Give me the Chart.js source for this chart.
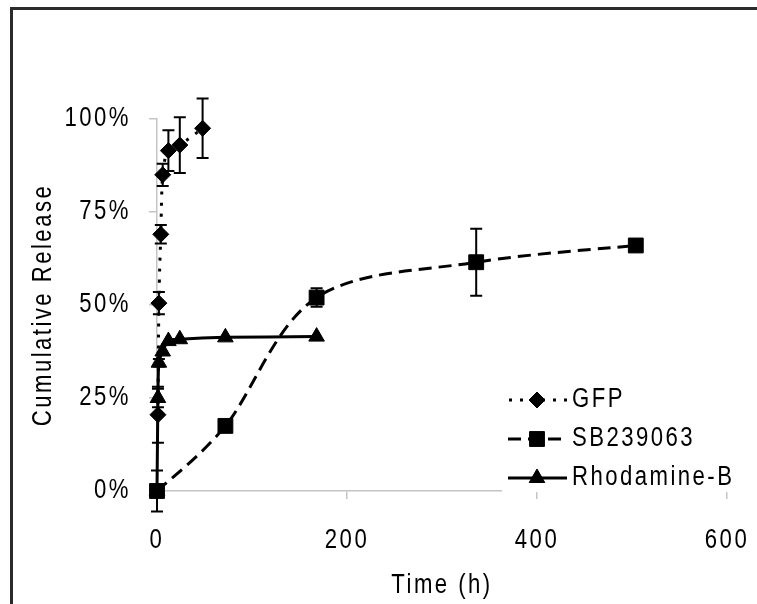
<!DOCTYPE html>
<html>
<head>
<meta charset="utf-8">
<script src="https://cdn.jsdelivr.net/npm/chart.js@4.4.0/dist/chart.umd.min.js"></script>
<style>
html,body{margin:0;padding:0;background:#fff;}
#wrap{position:relative;width:757px;height:604px;overflow:hidden;background:#fff;}
#c{position:absolute;left:0;top:0;width:757px;height:604px;}
#frame{position:absolute;left:10px;top:7px;width:900px;height:800px;border-left:3px solid #2b2b2b;border-top:3px solid #2b2b2b;pointer-events:none;}
</style>
</head>
<body>
<div id="wrap"><canvas id="c" width="757" height="604"></canvas><div id="frame"></div></div>
<script>
// ---- data ----
const gfpTime    = [1, 2, 4, 6, 12, 24, 48];
const gfpRelease = [20.5, 50.5, 69, 85, 91.5, 93, 97.5];
const gfpError   = [7.5, 3, 2.5, 3, 5.5, 7.5, 8];

const sbTime     = [0, 72, 168, 336, 504];
const sbRelease  = [0, 17.5, 52, 61.5, 66];
const sbError    = [5.5, 0, 2.5, 9, 0];

const rhoTime    = [0, 1, 2, 6, 12, 24, 72, 168];
const rhoRelease = [0, 25, 34.5, 37.5, 40.3, 40.8, 41.3, 41.5];
const rhoError   = [0, 2.5, 1, 0, 0, 0, 0, 0];

const seriesNames = ['GFP', 'SB239063', 'Rhodamine-B'];
const xTickValues = [0, 200, 400, 600];
const yTickValues = [0, 25, 50, 75, 100];
const xTitle = 'Time (h)';
const yTitle = 'Cumulative Release';

// ---- helpers ----
const FONT_FAMILY = "'Liberation Sans', Arial, sans-serif";
const NARROW = 0.82;          // horizontal text compression (Arial Narrow look)
const SPACING = '3px';
const AXIS_GRAY = '#c4c4c4';
const pts = (xs, ys) => xs.map((x, i) => ({x: x, y: ys[i]}));

// compress text horizontally on the canvas context so Liberation Sans looks narrow
(function installNarrow(ctx, k) {
  const f = ctx.fillText.bind(ctx), m = ctx.measureText.bind(ctx);
  ctx.fillText = function (t, x, y, mw) {
    ctx.save();
    ctx.translate(x, y);
    ctx.scale(k, 1);
    if (mw !== undefined && mw !== null) f(t, 0, 0, mw / k); else f(t, 0, 0);
    ctx.restore();
  };
  ctx.measureText = function (t) {
    const r = m(t);
    return {
      width: r.width * k,
      actualBoundingBoxAscent: r.actualBoundingBoxAscent,
      actualBoundingBoxDescent: r.actualBoundingBoxDescent,
      actualBoundingBoxLeft: r.actualBoundingBoxLeft * k,
      actualBoundingBoxRight: r.actualBoundingBoxRight * k
    };
  };
})(document.getElementById('c').getContext('2d'), NARROW);

const spacingPlugin = {
  id: 'spacing',
  beforeUpdate(chart) { chart.ctx.letterSpacing = SPACING; },
  beforeLayout(chart) { chart.ctx.letterSpacing = SPACING; },
  beforeDraw(chart) { chart.ctx.letterSpacing = SPACING; }
};

// spreadsheet-style smoothing: control points at 1/6 of the neighbour chord
const smoothPlugin = {
  id: 'sheetSmooth',
  beforeDatasetsDraw(chart) {
    chart.getSortedVisibleDatasetMetas().forEach(meta => {
      const p = meta.data, n = p.length;
      for (let i = 0; i < n; i++) {
        const prev = p[Math.max(i - 1, 0)], next = p[Math.min(i + 1, n - 1)];
        const dx = (next.x - prev.x) / 6, dy = (next.y - prev.y) / 6;
        p[i].cp1x = p[i].x - dx; p[i].cp1y = p[i].y - dy;
        p[i].cp2x = p[i].x + dx; p[i].cp2y = p[i].y + dy;
      }
      meta.dataset._pointsUpdated = true;
    });
  }
};

const errorBarPlugin = {
  id: 'errorBars',
  afterDatasetsDraw(chart) {
    const ctx = chart.ctx, xs = chart.scales.x, ys = chart.scales.y;
    ctx.save();
    ctx.strokeStyle = '#000';
    ctx.lineWidth = 2;
    ctx.setLineDash([]);
    chart.data.datasets.forEach(ds => {
      const errs = ds.errors;
      if (!errs) return;
      ds.data.forEach((p, j) => {
        const e = errs[j];
        if (!e) return;
        const px = xs.getPixelForValue(p.x);
        const top = ys.getPixelForValue(p.y + e);
        const bot = ys.getPixelForValue(p.y - e);
        ctx.beginPath();
        ctx.moveTo(px, top); ctx.lineTo(px, bot);
        ctx.moveTo(px - 6, top); ctx.lineTo(px + 6, top);
        ctx.moveTo(px - 6, bot); ctx.lineTo(px + 6, bot);
        ctx.stroke();
      });
    });
    ctx.restore();
  }
};

const legendPlugin = {
  id: 'boxLegend',
  afterDraw(chart) {
    const ctx = chart.ctx, a = chart.chartArea;
    const boxLeft = a.left + 345, boxBottom = a.bottom + 1.2;
    ctx.save();
    ctx.fillStyle = '#fff';
    ctx.fillRect(boxLeft, boxBottom - 122, 760 - boxLeft, 122);
    const rowY0 = a.bottom - 91, rowGap = 39;
    const lineX0 = boxLeft + 6, lineX1 = boxLeft + 65, markX = boxLeft + 35, textX = boxLeft + 70;
    chart.data.datasets.forEach((ds, i) => {
      const yy = rowY0 + i * rowGap;
      ctx.save();
      ctx.strokeStyle = ds.borderColor;
      ctx.lineWidth = ds.borderWidth;
      ctx.setLineDash(ds.borderDash || []);
      ctx.lineDashOffset = ds.legendDashOffset || 0;
      ctx.beginPath();
      ctx.moveTo(lineX0, yy); ctx.lineTo(lineX1, yy);
      ctx.stroke();
      ctx.restore();
      ctx.save();
      ctx.setLineDash([]);
      ctx.fillStyle = ds.pointBackgroundColor;
      ctx.strokeStyle = ds.pointBorderColor;
      Chart.helpers.drawPoint(ctx, {pointStyle: ds.pointStyle, radius: ds.pointRadius, rotation: 0, borderWidth: 1}, markX, yy);
      ctx.restore();
      ctx.save();
      ctx.letterSpacing = SPACING;
      ctx.fillStyle = '#000';
      ctx.font = "27px " + FONT_FAMILY;
      ctx.textAlign = 'left';
      ctx.textBaseline = 'middle';
      ctx.fillText(ds.label, textX, yy);
      ctx.restore();
    });
    ctx.restore();
  }
};

const common = {
  borderColor: '#000',
  pointBackgroundColor: '#000',
  pointBorderColor: '#000',
  pointBorderWidth: 1,
  borderWidth: 3,
  tension: 0.4,
  clip: false,
  fill: false
};

new Chart(document.getElementById('c'), {
  type: 'line',
  data: {
    datasets: [
      Object.assign({}, common, {
        label: seriesNames[0], data: pts(gfpTime, gfpRelease), errors: gfpError,
        borderDash: [3, 8], legendDashOffset: -1, pointStyle: 'rectRot', pointRadius: 8
      }),
      Object.assign({}, common, {
        label: seriesNames[1], data: pts(sbTime, sbRelease), errors: sbError,
        borderDash: [13, 7], pointStyle: 'rect', pointRadius: 10.5
      }),
      Object.assign({}, common, {
        label: seriesNames[2], data: pts(rhoTime, rhoRelease), errors: rhoError,
        borderDash: [], pointStyle: 'triangle', pointRadius: 9
      })
    ]
  },
  options: {
    responsive: false,
    animation: false,
    devicePixelRatio: 1,
    layout: {padding: {top: 119, right: 30, left: 0, bottom: 0}},
    plugins: {legend: {display: false}, tooltip: {enabled: false}},
    elements: {point: {hoverRadius: 0}},
    scales: {
      x: {
        type: 'linear', min: 0, max: 600,
        afterBuildTicks: s => { s.ticks = xTickValues.map(v => ({value: v})); },
        afterFit: s => { s.height = 113; s.paddingLeft = 0; s.paddingRight = 0; },
        grid: {display: true, drawOnChartArea: false, drawTicks: true, tickLength: 8, color: AXIS_GRAY, lineWidth: 1.5},
        border: {display: true, color: AXIS_GRAY, width: 1.5},
        ticks: {color: '#000', font: {family: FONT_FAMILY, size: 27}, padding: 25, maxRotation: 0},
        title: {display: true, text: xTitle, color: '#000', font: {family: FONT_FAMILY, size: 27}, padding: {top: 0, bottom: 2}}
      },
      y: {
        type: 'linear', min: 0, max: 100,
        afterBuildTicks: s => { s.ticks = yTickValues.map(v => ({value: v})); },
        afterFit: s => { s.width = 157; s.paddingTop = 0; s.paddingBottom = 0; },
        grid: {display: true, drawOnChartArea: false, drawTicks: true, tickLength: 8, color: AXIS_GRAY, lineWidth: 1.5},
        border: {display: true, color: AXIS_GRAY, width: 1.5},
        ticks: {color: '#000', font: {family: FONT_FAMILY, size: 27}, padding: 18, callback: v => v + '%'},
        title: {display: true, text: yTitle, color: '#000', font: {family: FONT_FAMILY, size: 27}, padding: {top: 27, bottom: 0}}
      }
    }
  },
  plugins: [spacingPlugin, smoothPlugin, errorBarPlugin, legendPlugin]
});
</script>
</body>
</html>
